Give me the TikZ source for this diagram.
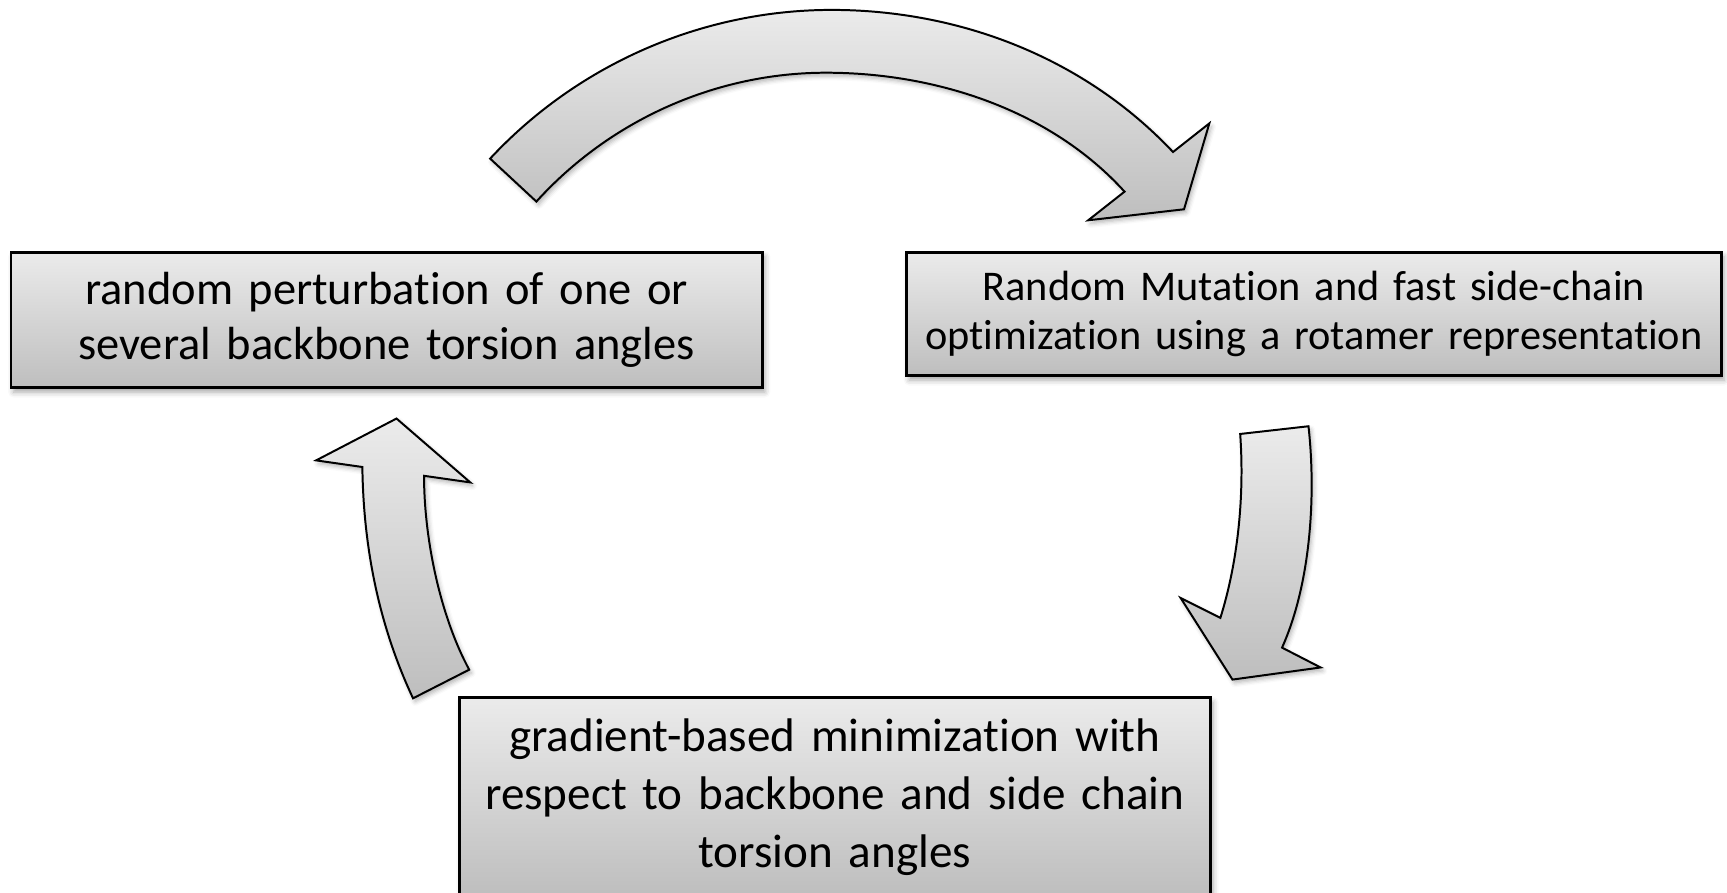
\documentclass[tikz,border=0pt]{standalone}
\usepackage{fontspec}
\setmainfont{Carlito}[Ligatures=NoCommon]
\usetikzlibrary{shadows.blur}
\definecolor{boxtop}{HTML}{EBEBEB}
\definecolor{boxbot}{HTML}{BEBEBE}
\tikzset{
  stepbox/.style={draw=black, line width=1.2pt, rectangle, inner sep=0pt,
    top color=boxtop, bottom color=boxbot, align=center,
    blur shadow={shadow xshift=1.2pt, shadow yshift=-2pt, shadow blur radius=2.5pt, shadow opacity=35}},
  blockarrow/.style={draw=black, line width=0.9pt, line join=miter,
    top color=boxtop, bottom color=boxbot,
    blur shadow={shadow xshift=1pt, shadow yshift=-1.5pt, shadow blur radius=2pt, shadow opacity=30}},
}
\begin{document}
\begin{tikzpicture}[x=0.5pt,y=-0.5pt]
\useasboundingbox (0,0) rectangle (1568,810);
\begin{scope}
\clip (0,0) rectangle (1568,810);
% boxes
\node[stepbox, minimum width=341pt, minimum height=61.5pt, text width=338pt,
      font=\fontsize{21.1}{25.3}\selectfont] (perturb) at (351,290.5)
  {random perturbation of one or\\several backbone torsion angles};
\node[stepbox, minimum width=370pt, minimum height=56pt, text width=368pt,
      font=\fontsize{19.2}{22.6}\selectfont] (mutate) at (1193,285)
  {Random Mutation and fast side-chain\\optimization using a rotamer representation};
\node[stepbox, minimum width=341pt, minimum height=90pt, text width=338pt,
      font=\fontsize{21.4}{26.3}\selectfont] (minimize) at (758,723.5)
  {gradient-based minimization with\\respect to backbone and side chain\\torsion angles};
% top curved arrow
\path[blockarrow] (445,144) .. controls (525,58) and (638,9) .. (755,9)
  .. controls (872,9) and (985,53) .. (1065,138) -- (1098,112) -- (1075,190)
  -- (988,200) -- (1021,174) .. controls (954,100) and (850,66) .. (750,66)
  .. controls (650,66) and (554,109) .. (487,183) -- cycle;
% right curved arrow
\path[blockarrow] (1126,394) -- (1188,387) .. controls (1195,450) and (1190,530) .. (1164,588)
  -- (1199,606) -- (1119,617) -- (1072,543) -- (1108,561)
  .. controls (1124,510) and (1130,450) .. (1126,394) -- cycle;
% left curved arrow
\path[blockarrow] (360,380) -- (427,438) -- (385,432)
  .. controls (385,490) and (400,560) .. (426,608) -- (375,634)
  .. controls (345,570) and (330,500) .. (329,424) -- (287,418) -- cycle;
\end{scope}
\end{tikzpicture}
\end{document}
